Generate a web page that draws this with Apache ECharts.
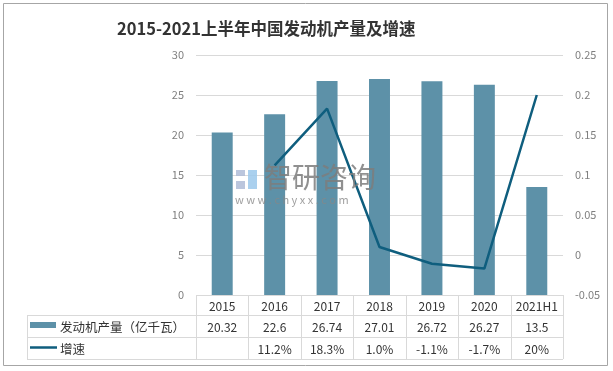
<!DOCTYPE html>
<html><head><meta charset="utf-8">
<script src="https://cdn.jsdelivr.net/npm/echarts@6/dist/echarts.min.js"></script>
<style>html,body{margin:0;padding:0;background:#fff}#c{width:613px;height:371px}</style>
</head><body><div id="c"></div>
<script>
const title = '2015-2021上半年中国发动机产量及增速';
const categories = ['2015','2016','2017','2018','2019','2020','2021H1'];
const production = [20.32, 22.6, 26.74, 27.01, 26.72, 26.27, 13.5];
const productionLabels = ['20.32','22.6','26.74','27.01','26.72','26.27','13.5'];
const growth = [null, 0.112, 0.183, 0.010, -0.011, -0.017, 0.20];
const growthLabels = ['', '11.2%', '18.3%', '1.0%', '-1.1%', '-1.7%', '20%'];
const seriesNames = ['发动机产量（亿千瓦）', '增速'];
const watermarkText = '智研咨询';
const watermarkUrl = 'w w w . c h y x x . c o m';

const barColor = '#5d91a8';
const lineColor = '#0f5e7e';
const FONT = '"Microsoft YaHei","Noto Sans CJK SC","Noto Sans",sans-serif';

const chart = echarts.init(document.getElementById('c'), null, {renderer:'canvas'});
const gridLeft = 196, gridRight = 563, gridTop = 55, gridBottom = 295;
chart.setOption({
  animation:false,
  backgroundColor:'#fff',
  title:[
    {text:title,left:112,top:15,textStyle:{fontSize:16.5,fontWeight:'bold',color:'#333',fontFamily:FONT}},
    {text:watermarkText,left:264,top:163,z:100,padding:0,textStyle:{fontSize:28,fontWeight:'normal',color:'rgba(125,125,125,0.85)',fontFamily:FONT}},
    {text:watermarkUrl,left:235,top:194,z:100,padding:0,textStyle:{fontSize:11,fontWeight:'normal',color:'rgba(135,135,135,0.8)',fontFamily:FONT}}
  ],
  grid:{left:gridLeft,right:613-gridRight,top:gridTop,bottom:371-gridBottom},
  xAxis:{type:'category',data:categories,axisLine:{show:false},axisTick:{show:false},axisLabel:{show:false}},
  yAxis:[
    {type:'value',min:0,max:30,interval:5,axisLine:{show:false},axisTick:{show:false},
     axisLabel:{color:'#7f7f7f',fontSize:11,margin:12,fontFamily:FONT},
     splitLine:{lineStyle:{color:'#d9d9d9',width:1}}},
    {type:'value',min:-0.05,max:0.25,interval:0.05,axisLine:{show:false},axisTick:{show:false},
     axisLabel:{color:'#7f7f7f',fontSize:11,margin:12,fontFamily:FONT,formatter:v=>String(parseFloat(v.toFixed(2)))},
     splitLine:{show:false}}
  ],
  series:[
    {name:seriesNames[0],type:'bar',data:production,barWidth:'40%',itemStyle:{color:barColor},z:2},
    {name:seriesNames[1],type:'line',yAxisIndex:1,data:growth,showSymbol:false,symbol:'none',
     lineStyle:{color:lineColor,width:2.5},itemStyle:{color:lineColor},z:3}
  ]
});

const n = categories.length;
const colW = (gridRight - gridLeft) / n;
const rowY = [295, 315, 337, 359];
const legendLeft = 27;
const g = [];
const lc = '#d9d9d9';
g.push({type:'rect',shape:{x:3.5,y:3.5,width:604,height:362},style:{fill:null,stroke:'#a6a6a6',lineWidth:1},silent:true});
g.push({type:'line',shape:{x1:gridLeft,y1:rowY[0]+0.5,x2:gridRight,y2:rowY[0]+0.5},style:{stroke:lc,lineWidth:1}});
for (let r=1;r<4;r++) g.push({type:'line',shape:{x1:legendLeft,y1:rowY[r]+0.5,x2:gridRight,y2:rowY[r]+0.5},style:{stroke:lc,lineWidth:1}});
g.push({type:'line',shape:{x1:legendLeft+0.5,y1:rowY[1],x2:legendLeft+0.5,y2:rowY[3]},style:{stroke:lc,lineWidth:1}});
for (let i=0;i<=n;i++){
  const x = Math.round(gridLeft + i*colW)+0.5;
  g.push({type:'line',shape:{x1:x,y1:rowY[0],x2:x,y2:rowY[3]},style:{stroke:lc,lineWidth:1}});
}
const tstyle = {fill:'#333',font:'12px '+FONT,align:'center',verticalAlign:'middle'};
for (let i=0;i<n;i++){
  const cx = chart.convertToPixel({xAxisIndex:0}, categories[i]);
  g.push({type:'text',x:cx,y:(rowY[0]+rowY[1])/2+1,style:Object.assign({},tstyle,{text:categories[i]})});
  g.push({type:'text',x:cx,y:(rowY[1]+rowY[2])/2+1,style:Object.assign({},tstyle,{text:productionLabels[i]})});
  g.push({type:'text',x:cx,y:(rowY[2]+rowY[3])/2+1,style:Object.assign({},tstyle,{text:growthLabels[i]})});
}
g.push({type:'rect',shape:{x:30,y:322,width:26,height:6},style:{fill:barColor}});
g.push({type:'text',x:60,y:(rowY[1]+rowY[2])/2+1,style:{text:seriesNames[0],fill:'#333',font:'12.5px '+FONT,align:'left',verticalAlign:'middle'}});
g.push({type:'line',shape:{x1:30,y1:347.5,x2:57,y2:347.5},style:{stroke:lineColor,lineWidth:2.5}});
g.push({type:'text',x:60,y:(rowY[2]+rowY[3])/2+1,style:{text:seriesNames[1],fill:'#333',font:'12.5px '+FONT,align:'left',verticalAlign:'middle'}});
// watermark logo
g.push({type:'rect',shape:{x:236,y:170,width:9,height:6},style:{fill:'rgba(175,188,215,0.85)'}});
g.push({type:'rect',shape:{x:236,y:181,width:9,height:8},style:{fill:'rgba(175,188,215,0.85)'}});
g.push({type:'rect',shape:{x:248,y:170,width:9,height:19},style:{fill:'rgba(155,200,235,0.85)'}});
chart.setOption({graphic:g});
</script></body></html>
